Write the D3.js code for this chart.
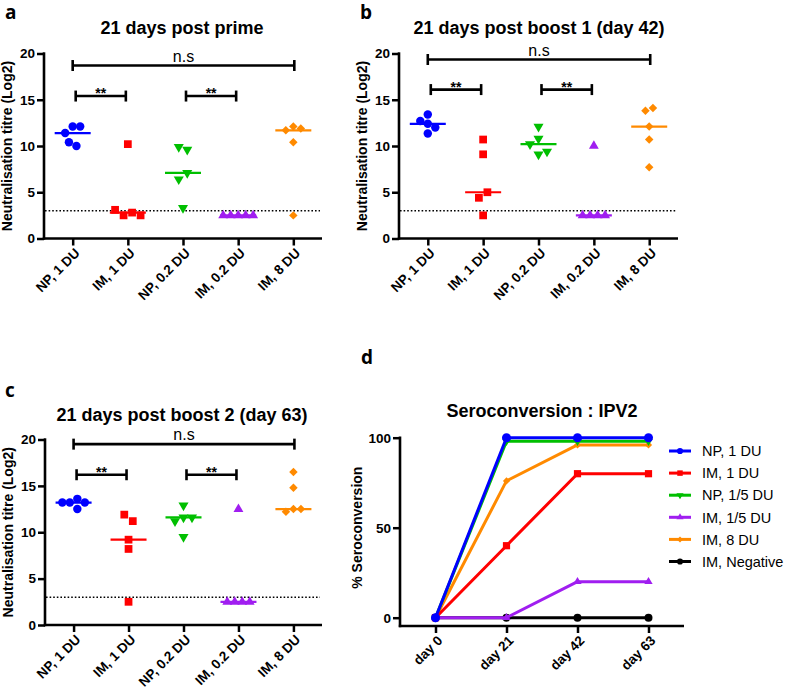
<!DOCTYPE html>
<html><head><meta charset="utf-8">
<script src="https://cdn.jsdelivr.net/npm/d3@7"></script>
<style>body{margin:0;background:#fff}svg{display:block}</style>
</head><body>
<svg id="chart" width="787" height="691"></svg>
<script>
// ---------------- DATA ----------------
const categories = ["NP, 1 DU", "IM, 1 DU", "NP, 0.2 DU", "IM, 0.2 DU", "IM, 8 DU"];
const yTicks = [0, 5, 10, 15, 20];
const panelTitles = ["21 days post prime", "21 days post boost 1 (day 42)", "21 days post boost 2 (day 63)"];
const panelLetters = ["a", "b", "c", "d"];
// neutralisation titres (Log2), one array per group
const primeValues = [
  [12.1, 11.4, 12.1, 10.0, 10.4],
  [10.2, 2.8, 2.5, 2.5, 3.1],
  [9.6, 9.9, 7.1, 6.4, 3.3],
  [2.5, 2.5, 2.5, 2.5, 2.5],
  [12.1, 11.7, 11.9, 10.4, 2.5]
];
const boost1Values = [
  [12.4, 13.4, 11.35, 12.7, 12.0],
  [10.7, 9.1, 5.0, 4.4, 2.5],
  [12.1, 10.8, 10.2, 9.1, 9.4],
  [10.0, 2.5, 2.5, 2.5, 2.5],
  [14.1, 13.8, 12.1, 10.7, 7.7]
];
const boost2Values = [
  [13.6, 13.2, 12.5, 13.2, 13.2],
  [11.2, 11.9, 9.2, 8.2, 2.5],
  [12.9, 11.6, 11.2, 11.6, 9.5],
  [12.5, 2.5, 2.5, 2.5, 2.5],
  [16.5, 14.8, 12.5, 12.2, 12.5]
];
const detectionLimit = 3;
const nsLevels = [18.7, 19.35, 19.5];     // n.s bracket level per panel
const starLevels = [15.4, 16.1, 16.2];    // ** bracket level per panel
const comparisons = [[0, 4, "n.s"], [0, 1, "**"], [2, 3, "**"]];

// seroconversion panel
const days = ["day 0", "day 21", "day 42", "day 63"];
const seroTicks = [0, 50, 100];
const seroTitle = "Seroconversion : IPV2";
const seroLabels = ["NP, 1 DU", "IM, 1 DU", "NP, 1/5 DU", "IM, 1/5 DU", "IM, 8 DU", "IM, Negative"];
const seroNP1 = [0, 100, 100, 100];
const seroIM1 = [0, 40, 80, 80];
const seroNP5 = [0, 98, 98, 98];
const seroIM5 = [0, 0, 20, 20];
const seroIM8 = [0, 76, 96, 96];
const seroNeg = [0, 0, 0, 0];

// ---------------- STYLE ----------------
const FONT = "'Liberation Sans', Arial, Helvetica, sans-serif";
const groupColors = ["#0000ff", "#ff0000", "#00bf00", "#a01ef0", "#ff8a00", "#000000"];
const triDown = { draw(ctx, size) { const s = Math.sqrt(size / (Math.sqrt(3) / 4)); const h = s * Math.sqrt(3) / 2;
  ctx.moveTo(-s / 2, -h / 3); ctx.lineTo(s / 2, -h / 3); ctx.lineTo(0, 2 * h / 3); ctx.closePath(); } };
const triUp = { draw(ctx, size) { const s = Math.sqrt(size / (Math.sqrt(3) / 4)); const h = s * Math.sqrt(3) / 2;
  ctx.moveTo(-s / 2, h / 3); ctx.lineTo(s / 2, h / 3); ctx.lineTo(0, -2 * h / 3); ctx.closePath(); } };
const diamondSq = { draw(ctx, size) { const r = Math.sqrt(size / 2);
  ctx.moveTo(0, -r); ctx.lineTo(r, 0); ctx.lineTo(0, r); ctx.lineTo(-r, 0); ctx.closePath(); } };
const groupSymbols = [d3.symbolCircle, d3.symbolSquare, triDown, triUp, diamondSq, d3.symbolCircle];
const scatterSizes = [56, 60, 44, 42, 36];
const swarmDiam = [7.5, 8.5, 8.5, 7.5, 7.5];

const svg = d3.select("#chart");

function swarm(vals, y, d) {
  const step = d / 2;
  const placed = [];
  vals.forEach(v => {
    const py = y(v);
    for (let k = 0; k < 50; k++) {
      const cands = k === 0 ? [0] : [-k * step, k * step];
      let found = null;
      for (const dx of cands) {
        if (placed.every(p => Math.hypot(p.dx - dx, p.py - py) >= d - 0.01)) { found = dx; break; }
      }
      if (found !== null) { placed.push({ v, py, dx: found }); break; }
    }
  });
  const sorted = placed.slice().sort((a, b) => a.py - b.py);
  let cluster = [];
  const flush = () => {
    if (!cluster.length) return;
    const mn = d3.min(cluster, p => p.dx), mx = d3.max(cluster, p => p.dx);
    const sh = (mn + mx) / 2;
    cluster.forEach(p => p.dx -= sh);
    cluster = [];
  };
  sorted.forEach((p, i) => {
    if (i > 0 && p.py - sorted[i - 1].py >= d) flush();
    cluster.push(p);
  });
  flush();
  return placed;
}

function styleCatLabels(sel) {
  sel.selectAll("text").attr("font-family", FONT).attr("font-weight", "bold").attr("font-size", 13.5)
    .attr("fill", "#000").attr("text-anchor", "end").attr("x", 0).attr("y", 0).attr("dy", "0.35em")
    .attr("transform", "translate(4,12) rotate(-45)");
}

function scatterPanel(cfg) {
  const { values, ox, oy0, oy20, xEnd, idx, titleX, titleY, letterX, letterY } = cfg;
  const g = svg.append("g");
  const y = d3.scaleLinear().domain([0, 20]).range([oy0, oy20]);
  const x = d3.scalePoint().domain(categories).range([ox, xEnd]).padding(0.52);

  g.append("text").attr("x", titleX).attr("y", titleY).attr("text-anchor", "middle")
    .attr("font-family", FONT).attr("font-weight", "bold").attr("font-size", 18).text(panelTitles[idx]);
  g.append("text").attr("x", letterX).attr("y", letterY).attr("font-family", "'Open Sans', " + FONT)
    .attr("font-weight", "bold").attr("font-size", 19).text(panelLetters[idx]);

  const ya = g.append("g").attr("transform", `translate(${ox},0)`)
    .call(d3.axisLeft(y).tickValues(yTicks).tickSize(7).tickSizeOuter(0).tickPadding(2));
  ya.select(".domain").remove();
  ya.selectAll("line").attr("stroke", "#000").attr("stroke-width", 2.5);
  ya.selectAll("text").attr("font-family", FONT).attr("font-weight", "bold").attr("font-size", 13.5).attr("fill", "#000");
  g.append("line").attr("x1", ox).attr("x2", ox).attr("y1", y(20) - 1.2).attr("y2", oy0 + 1.2)
    .attr("stroke", "#000").attr("stroke-width", 2.6);
  g.append("text").attr("transform", `translate(${ox - 32},${(y(0) + y(20)) / 2}) rotate(-90)`)
    .attr("text-anchor", "middle").attr("font-family", FONT).attr("font-weight", "bold").attr("font-size", 14)
    .text("Neutralisation titre (Log2)");

  const xa = g.append("g").attr("transform", `translate(0,${oy0})`)
    .call(d3.axisBottom(x).tickSize(7).tickSizeOuter(0));
  xa.select(".domain").remove();
  xa.selectAll("line").attr("stroke", "#000").attr("stroke-width", 2.5);
  styleCatLabels(xa);
  g.append("line").attr("x1", ox - 1.2).attr("x2", xEnd).attr("y1", oy0).attr("y2", oy0)
    .attr("stroke", "#000").attr("stroke-width", 2.6);

  g.append("line").attr("x1", ox + 1).attr("x2", xEnd - 2).attr("y1", y(detectionLimit)).attr("y2", y(detectionLimit))
    .attr("stroke", "#000").attr("stroke-width", 1.4).attr("stroke-dasharray", "1.6,2");

  comparisons.forEach(([a, b, lab]) => {
    const lev = lab === "n.s" ? nsLevels[idx] : starLevels[idx];
    const inset = lab === "n.s" ? 0 : 3;
    const x1 = x(categories[a]) + inset, x2 = x(categories[b]) - inset + 1, yy = y(lev);
    g.append("line").attr("x1", x1).attr("x2", x2).attr("y1", yy).attr("y2", yy).attr("stroke", "#000").attr("stroke-width", 2.6);
    [x1, x2].forEach(xx => g.append("line").attr("x1", xx).attr("x2", xx).attr("y1", yy - 5.5).attr("y2", yy + 5.5)
      .attr("stroke", "#000").attr("stroke-width", 2.6));
    if (lab === "n.s") {
      g.append("text").attr("x", (x1 + x2) / 2).attr("y", yy - 4).attr("text-anchor", "middle")
        .attr("font-family", FONT).attr("font-size", 16).text(lab);
    } else {
      g.append("text").attr("x", (x1 + x2) / 2).attr("y", yy + 2).attr("text-anchor", "middle")
        .attr("font-family", FONT).attr("font-weight", "bold").attr("font-size", 14).text(lab);
    }
  });

  values.forEach((vals, i) => {
    const cx = x(categories[i]);
    const med = d3.median(vals);
    g.append("line").attr("x1", cx - 18).attr("x2", cx + 18).attr("y1", y(med)).attr("y2", y(med))
      .attr("stroke", groupColors[i]).attr("stroke-width", 2.2);
    const pts = swarm(vals, y, swarmDiam[i]);
    g.selectAll(null).data(pts).join("path")
      .attr("d", d3.symbol(groupSymbols[i], scatterSizes[i]))
      .attr("transform", p => `translate(${cx + p.dx},${p.py})`)
      .attr("fill", groupColors[i]);
  });
}

scatterPanel({ values: primeValues, idx: 0, ox: 44, oy0: 238.5, oy20: 53.5, xEnd: 322, titleX: 182, titleY: 34, letterX: 5, letterY: 18.5 });
scatterPanel({ values: boost1Values, idx: 1, ox: 399, oy0: 238.5, oy20: 53.5, xEnd: 678, titleX: 539, titleY: 34, letterX: 360, letterY: 18.5 });
scatterPanel({ values: boost2Values, idx: 2, ox: 45, oy0: 625, oy20: 439.5, xEnd: 322, titleX: 182, titleY: 421, letterX: 5, letterY: 397 });

// ---------------- PANEL D ----------------
(function () {
  const ox = 400, oy0 = 617.7, oy100 = 437.7, axisY = 626, xEnd = 684;
  const g = svg.append("g");
  const y = d3.scaleLinear().domain([0, 100]).range([oy0, oy100]);
  const x = d3.scalePoint().domain(days).range([ox, xEnd]).padding(0.5);

  g.append("text").attr("x", 542).attr("y", 417).attr("text-anchor", "middle")
    .attr("font-family", FONT).attr("font-weight", "bold").attr("font-size", 18).text(seroTitle);
  g.append("text").attr("x", 361).attr("y", 364).attr("font-family", "'Open Sans', " + FONT)
    .attr("font-weight", "bold").attr("font-size", 19).text(panelLetters[3]);

  const ya = g.append("g").attr("transform", `translate(${ox},0)`)
    .call(d3.axisLeft(y).tickValues(seroTicks).tickSize(7).tickSizeOuter(0).tickPadding(2));
  ya.select(".domain").remove();
  ya.selectAll("line").attr("stroke", "#000").attr("stroke-width", 2.5);
  ya.selectAll("text").attr("font-family", FONT).attr("font-weight", "bold").attr("font-size", 13.5).attr("fill", "#000");
  g.append("line").attr("x1", ox).attr("x2", ox).attr("y1", oy100 - 1.2).attr("y2", axisY + 1.2)
    .attr("stroke", "#000").attr("stroke-width", 2.6);
  g.append("text").attr("transform", `translate(${ox - 38},${(oy0 + oy100) / 2}) rotate(-90)`)
    .attr("text-anchor", "middle").attr("font-family", FONT).attr("font-weight", "bold").attr("font-size", 14)
    .text("% Seroconversion");

  const xa = g.append("g").attr("transform", `translate(0,${axisY})`)
    .call(d3.axisBottom(x).tickSize(7).tickSizeOuter(0));
  xa.select(".domain").remove();
  xa.selectAll("line").attr("stroke", "#000").attr("stroke-width", 2.5);
  styleCatLabels(xa);
  g.append("line").attr("x1", ox - 1.2).attr("x2", xEnd).attr("y1", axisY).attr("y2", axisY)
    .attr("stroke", "#000").attr("stroke-width", 2.6);

  const series = [seroNP1, seroIM1, seroNP5, seroIM5, seroIM8, seroNeg];
  const lineSizes = [64, 52, 30, 30, 26, 50];
  const line = d3.line().x((d, i) => x(days[i])).y(d => y(d));
  const order = [5, 4, 3, 2, 1, 0];
  order.forEach(s => {
    g.append("path").attr("d", line(series[s])).attr("fill", "none")
      .attr("stroke", groupColors[s]).attr("stroke-width", 3).attr("stroke-linejoin", "round");
    g.selectAll(null).data(series[s]).join("path")
      .attr("d", d3.symbol(groupSymbols[s], lineSizes[s]))
      .attr("transform", (d, i) => `translate(${x(days[i])},${y(d)})`)
      .attr("fill", groupColors[s]);
  });

  const lg = g.append("g");
  seroLabels.forEach((lab, i) => {
    const ly = 451 + i * 22.1;
    lg.append("line").attr("x1", 669).attr("x2", 691).attr("y1", ly).attr("y2", ly)
      .attr("stroke", groupColors[i]).attr("stroke-width", 3);
    lg.append("path").attr("d", d3.symbol(groupSymbols[i], [30, 30, 22, 22, 18, 30][i]))
      .attr("transform", `translate(680,${ly})`).attr("fill", groupColors[i]);
    lg.append("text").attr("x", 702).attr("y", ly).attr("dy", "0.36em")
      .attr("font-family", FONT).attr("font-size", 14.5).text(lab);
  });
})();
</script>
</body></html>
